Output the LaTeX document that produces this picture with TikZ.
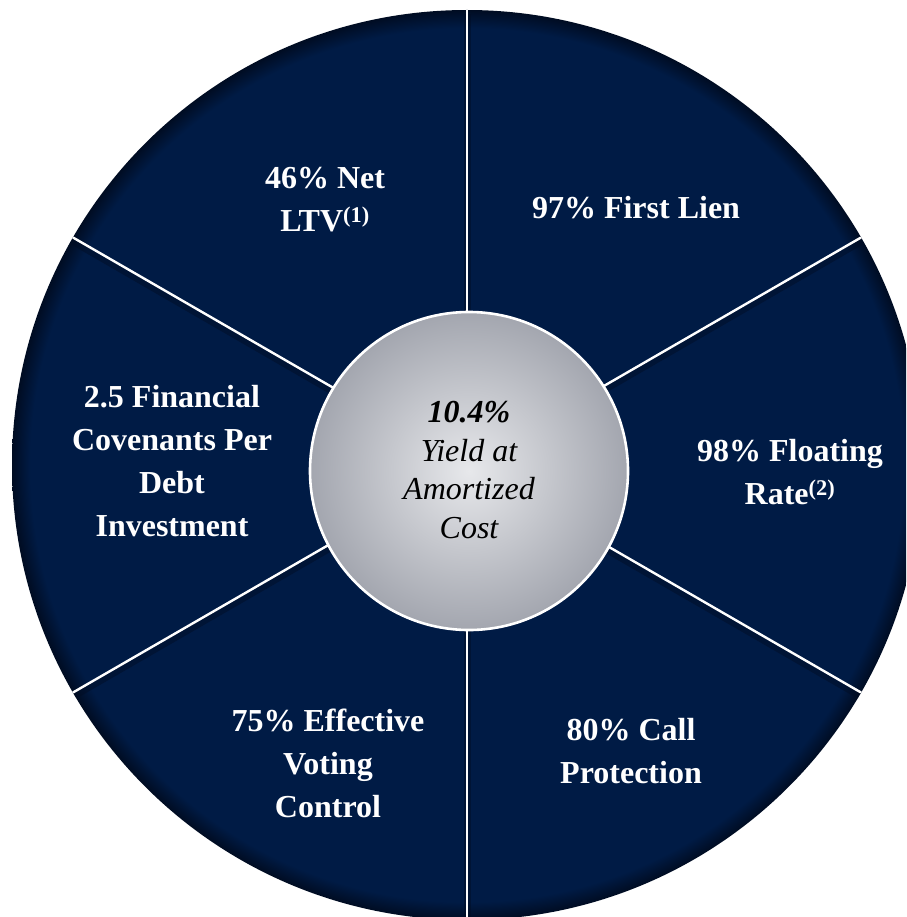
\documentclass[tikz,border=0pt]{standalone}
\usepackage{fontspec}
\setmainfont{Liberation Serif}
\usetikzlibrary{calc}
\definecolor{navy}{RGB}{0,27,69}
\definecolor{navydark}{RGB}{0,12,34}
\definecolor{ctrin}{RGB}{231,232,235}
\definecolor{ctrout}{RGB}{163,166,175}
\pgfdeclareradialshading{sectorshade}{\pgfpointorigin}{color(0bp)=(navy); color(24bp)=(navy); color(25bp)=(navydark); color(50bp)=(navydark)}
\pgfdeclareradialshading{hubshade}{\pgfpointorigin}{color(0bp)=(ctrin); color(25bp)=(ctrout); color(50bp)=(ctrout)}
\tikzset{
  lbl/.style={text=white, font=\fontsize{32}{43}\selectfont\bfseries, align=center, inner sep=0pt},
  hubtxt/.style={text=black, font=\fontsize{32}{38.5}\selectfont\itshape, align=center, inner sep=0pt},
  divider/.style={white, line width=2.4pt},
  dividershadow/.style={navydark, opacity=0.45, line width=7pt},
  hubstyle/.style={circle, draw=white, line width=2.6pt, minimum size=318pt, inner sep=0pt, shade, shading=hubshade},
}
\begin{document}
\begin{tikzpicture}[x=1pt,y=-1pt]
\useasboundingbox (0,0) rectangle (906,917);
\clip (0,0) rectangle (906,917);
\coordinate (c) at (467,465);
\shade[shading=sectorshade] (c) circle[radius=455pt];
\begin{scope}
  \clip (c) circle[radius=455pt];
  \foreach \a in {-90,-30,30,90,150,210}
    \draw[dividershadow] ($(c)+(0,4)$) -- ++(\a:455pt);
  \foreach \a in {-90,-30,30,90,150,210}
    \draw[divider] (c) -- ++(\a:455pt);
\end{scope}
\node[hubstyle] (hub) at (469,471) {};
\node[hubtxt] (yield) at (469,470) {\textbf{10.4\%}\\Yield at\\Amortized\\Cost};
\node[lbl] (ltv) at (325,200) {46\% Net\\LTV\textsuperscript{(1)}};
\node[lbl] (lien) at (636,208) {97\% First Lien};
\node[lbl] (cov) at (172,461) {2.5 Financial\\Covenants Per\\Debt\\Investment};
\node[lbl] (float) at (790,472) {98\% Floating\\Rate\textsuperscript{(2)}};
\node[lbl] (vote) at (328,763) {75\% Effective\\Voting\\Control};
\node[lbl] (call) at (631,751) {80\% Call\\Protection};
\end{tikzpicture}
\end{document}
